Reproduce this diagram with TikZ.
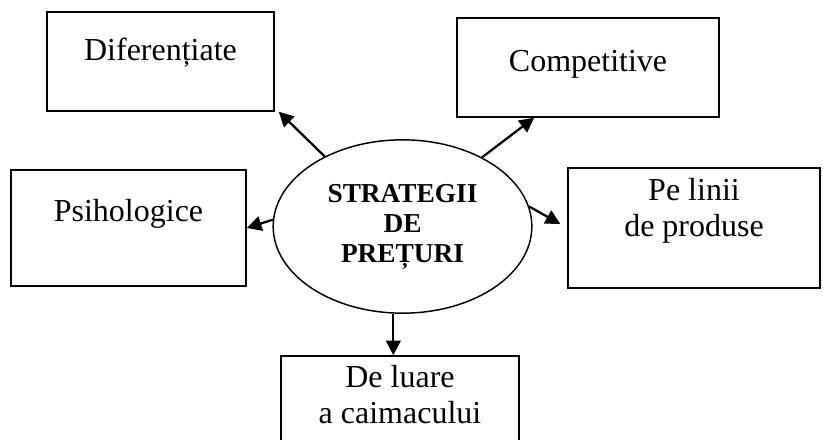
\documentclass[tikz,border=0pt]{standalone}
\usepackage{fontspec}
\setmainfont{Liberation Serif}
\usetikzlibrary{shapes.geometric,arrows.meta}
\begin{document}
\begin{tikzpicture}
	[x=0.75pt,y=-0.75pt,thick,%
	  box/.style={shape=rectangle,draw,line width=1.1pt,inner sep=0pt,font=\fontsize{24}{27}\selectfont},
	  hub/.style={shape=ellipse,draw,line width=1.1pt,inner sep=0pt,align=center,
	    minimum width=194pt,minimum height=130pt,font=\fontsize{20.5}{22.5}\selectfont\bfseries},
	  link/.style={-{Triangle[length=11pt,width=11pt]},line width=1.7pt}]
	\path[use as bounding box,clip] (0,0) rectangle (823,439);
	\node[hub] (str) at (402.5,226.5) {STRATEGII\\DE\\PREȚURI};
	\node[box,minimum width=170.25pt,text height=36.2pt,text depth=38pt] (dif) at (160.5,61.5) {Diferențiate};
	\node[box,minimum width=196.5pt,text height=39.75pt,text depth=34.5pt] (comp) at (588,67.5) {Competitive};
	\node[box,minimum width=176.25pt,text height=38.8pt,text depth=48.2pt] (psih) at (128.5,228) {Psihologice};
	\node[box,minimum width=189pt,text height=24pt,text depth=66pt] (linii) at (694,228)
	  {\begin{tabular}[t]{@{}c@{}}Pe linii\\de produse\end{tabular}};
	\node[box,minimum width=178.5pt,text height=23.5pt,text depth=66.5pt] (caim) at (400,416)
	  {\begin{tabular}[t]{@{}c@{}}De luare\\a caimacului\end{tabular}};
	\draw[link] (str.138) -- ([xshift=3pt]dif.south east);
	\draw[link] (str.41) -- (comp.223);
	\draw[link] (str.177) -- (psih.east);
	\draw[link,shorten >=6pt] (str.9) -- (linii.west);
	\draw[link] (str.264) -- (str.264 |- caim.north);
\end{tikzpicture}
\end{document}
